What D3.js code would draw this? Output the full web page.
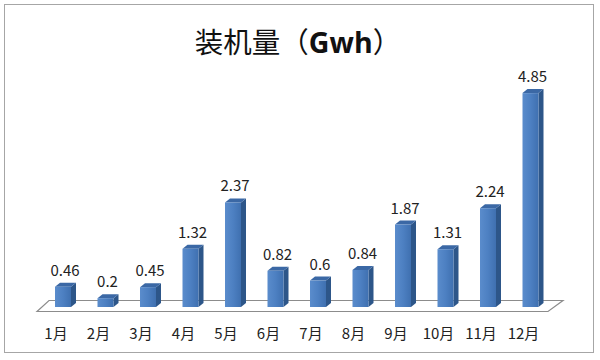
<!DOCTYPE html>
<html><head><meta charset="utf-8">
<script src="https://cdn.jsdelivr.net/npm/d3@7"></script>
<style>body{margin:0;background:#fff}</style>
</head><body>
<svg id="c" width="600" height="360"></svg>
<script>
const months = ["1月","2月","3月","4月","5月","6月","7月","8月","9月","10月","11月","12月"];
const values = [0.46,0.2,0.45,1.32,2.37,0.82,0.6,0.84,1.87,1.31,2.24,4.85];
const valueLabels = ["0.46","0.2","0.45","1.32","2.37","0.82","0.6","0.84","1.87","1.31","2.24","4.85"];
const title = "装机量（";
const titleUnit = "Gwh";

const svg = d3.select("#c");
const font = "'Noto Sans CJK SC','Noto Sans',sans-serif";

svg.append("rect").attr("x",4.5).attr("y",4.5).attr("width",589).attr("height",348)
  .attr("fill","#fff").attr("stroke","#a6a6a6").attr("stroke-width",1);

const t = svg.append("text").attr("x",298).attr("y",53).attr("text-anchor","middle")
  .attr("font-family",font).attr("font-size",28.5).attr("fill","#111");
t.append("tspan").text(title);
t.append("tspan").attr("font-weight","bold").attr("font-family","'Open Sans','Noto Sans',sans-serif").text(titleUnit);
t.append("tspan").text("）");

const x = d3.scaleBand().domain(months).range([33.75, 559.75]).paddingInner(0.6235).paddingOuter(0.5);
const y = d3.scaleLinear().domain([0,5]).range([307, 86.5]);
const dx = 5, dy = -4;

// floor
svg.append("path")
  .attr("d", `M37,311.5 L548,311.5 L563,300.5 L49,300.5 Z`)
  .attr("fill","#fff").attr("stroke","#8c8c8c").attr("stroke-width",1.2);

const defs = svg.append("defs");
const g1 = defs.append("linearGradient").attr("id","front").attr("x1","0").attr("x2","1").attr("y1","0").attr("y2","0");
g1.append("stop").attr("offset","0").attr("stop-color","#5a8ccc");
g1.append("stop").attr("offset","0.5").attr("stop-color","#4d80c2");
g1.append("stop").attr("offset","1").attr("stop-color","#3f70b0");

const bars = svg.append("g").selectAll("g").data(months).join("g");
bars.each(function(m,i){
  const g = d3.select(this);
  const x0 = x(m), w = x.bandwidth(), yt = y(values[i]), yb = y(0);
  g.append("path").attr("d",`M${x0+w},${yt} L${x0+w+dx},${yt+dy} L${x0+w+dx},${yb+dy} L${x0+w},${yb} Z`)
    .attr("fill","#2d5689");
  g.append("path").attr("d",`M${x0},${yt} L${x0+dx},${yt+dy} L${x0+w+dx},${yt+dy} L${x0+w},${yt} Z`)
    .attr("fill","#3b68a5");
  g.append("rect").attr("x",x0).attr("y",yt).attr("width",w).attr("height",yb-yt).attr("fill","url(#front)");
  g.append("text").attr("x",x0+w/2+2).attr("y",yt-11).attr("text-anchor","middle")
    .attr("font-family",font).attr("font-size",15).attr("fill","#222").text(valueLabels[i]);
  g.append("text").attr("x",x0+w/2-7).attr("y",339).attr("text-anchor","middle")
    .attr("font-family",font).attr("font-size",15).attr("fill","#222").text(m);
});
</script>
</body></html>
